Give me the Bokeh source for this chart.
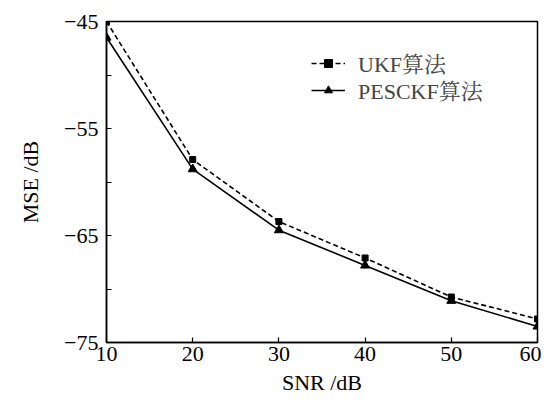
from bokeh.plotting import figure
from bokeh.models import FixedTicker, Legend, LegendItem, Range1d
from bokeh.embed import file_html
from bokeh.resources import INLINE

snr = [10, 20, 30, 40, 50, 60]
ukf = [-45.0, -57.9, -63.7, -67.1, -70.75, -72.8]
pesckf = [-46.5, -58.8, -64.5, -67.8, -71.1, -73.5]
x_ticks = [10, 20, 30, 40, 50, 60]
y_ticks = [-75, -65, -55, -45]
y_tick_labels = ["\u221275", "\u221265", "\u221255", "\u221245"]
y_minor = [-70, -60, -50]
series_names = ["UKF算法", "PESCKF算法"]

FONT = "Liberation Serif, Noto Serif CJK SC, Noto Sans CJK SC, serif"

p = figure(width=541, height=397, output_backend="svg", toolbar_location=None,
           x_range=Range1d(10, 60), y_range=Range1d(-75, -45),
           min_border_left=106, min_border_right=4, min_border_top=21, min_border_bottom=51)
p.xgrid.visible = False
p.ygrid.visible = False
p.outline_line_color = "black"
p.outline_line_width = 1.5
p.background_fill_color = "white"
p.border_fill_color = "white"

r1 = p.line(snr, ukf, line_color="black", line_width=1.6, line_dash="5 3")
s1 = p.scatter(snr, ukf, marker="square", size=6, fill_color="black", line_color="black")
r2 = p.line(snr, pesckf, line_color="black", line_width=1.6)
s2 = p.scatter(snr, pesckf, marker="triangle", size=9, fill_color="black", line_color="black")

for ax in (p.xaxis[0], p.yaxis[0]):
    ax.axis_line_width = 1.5
    ax.major_tick_in = 5
    ax.major_tick_out = 0
    ax.minor_tick_in = 5
    ax.minor_tick_out = 0
    ax.major_tick_line_width = 1.2
    ax.minor_tick_line_width = 1.2
    ax.major_label_text_font = FONT
    ax.major_label_text_font_size = "22px"
    ax.major_label_text_color = "black"
    ax.axis_label_text_font = FONT
    ax.axis_label_text_font_size = "22px"
    ax.axis_label_text_font_style = "normal"
    ax.axis_label_text_color = "black"

p.xaxis.ticker = FixedTicker(ticks=x_ticks)
p.xaxis.minor_tick_line_color = None
p.xaxis.major_label_standoff = 4
p.xaxis.axis_label = "SNR /dB"
p.xaxis.axis_label_standoff = 6

p.yaxis.ticker = FixedTicker(ticks=y_ticks, minor_ticks=y_minor)
p.yaxis.major_label_overrides = {t: l for t, l in zip(y_ticks, y_tick_labels)}
p.yaxis.major_label_standoff = 8
p.yaxis.axis_label = "MSE /dB"
p.yaxis.axis_label_standoff = 18

for name, rends, loc in ((series_names[0], [r1, s1], (205, 264)),
                         (series_names[1], [r2, s2], (205, 237))):
    lg = Legend(items=[LegendItem(label=name, renderers=rends)],
                border_line_alpha=0, background_fill_alpha=0,
                label_text_font=FONT, label_text_font_size="22px",
                glyph_width=34, glyph_height=20, label_height=20, spacing=0,
                label_standoff=13, margin=0, padding=0)
    lg.location = loc
    p.add_layout(lg, "center")

open("out.html", "w").write(file_html(p, INLINE))
